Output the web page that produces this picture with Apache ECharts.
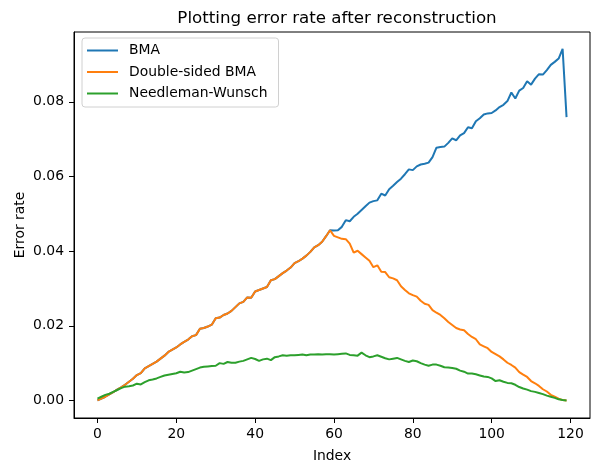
<!DOCTYPE html>
<html>
<head>
<meta charset="utf-8">
<script src="https://cdn.jsdelivr.net/npm/echarts@6/dist/echarts.min.js"></script>
<style>
  html, body { margin: 0; padding: 0; background: #fff; }
  #main { width: 592px; height: 460px; }
</style>
</head>
<body>
<div id="main"></div>
<script>
// values, index 0..119
var bma = [
  0.0000, 0.0005, 0.0010, 0.0016, 0.0022, 0.0029, 0.0035, 0.0042, 0.0050, 0.0058,
  0.0068, 0.0073, 0.0086, 0.0092, 0.0098, 0.0104, 0.0112, 0.0120, 0.0130, 0.0136,
  0.0142, 0.0150, 0.0157, 0.0163, 0.0172, 0.0175, 0.0192, 0.0194, 0.0198, 0.0203,
  0.0220, 0.0222, 0.0229, 0.0233, 0.0240, 0.0250, 0.0260, 0.0264, 0.0276, 0.0275,
  0.0292, 0.0296, 0.0300, 0.0304, 0.0322, 0.0325, 0.0333, 0.0341, 0.0348, 0.0356,
  0.0368, 0.0373, 0.0380, 0.0388, 0.0398, 0.0410, 0.0416, 0.0425, 0.0440, 0.0456,
  0.0455, 0.0456, 0.0465, 0.0483, 0.0480, 0.0492, 0.0500, 0.0510, 0.0520, 0.0530,
  0.0534, 0.0536, 0.0554, 0.0549, 0.0566, 0.0575, 0.0585, 0.0594, 0.0606, 0.0619,
  0.0617, 0.0627, 0.0632, 0.0634, 0.0637, 0.0652, 0.0677, 0.0679, 0.0680, 0.0690,
  0.0702, 0.0697, 0.0710, 0.0716, 0.0732, 0.0729, 0.0748, 0.0756, 0.0766, 0.0769,
  0.0770, 0.0777, 0.0786, 0.0792, 0.0802, 0.0825, 0.0809, 0.0830, 0.0837, 0.0855,
  0.0846, 0.0862, 0.0874, 0.0873, 0.0885, 0.0899, 0.0907, 0.0916, 0.0942, 0.0759
];
var doubleSided = [
  0.0000, 0.0005, 0.0010, 0.0016, 0.0022, 0.0029, 0.0035, 0.0042, 0.0050, 0.0058,
  0.0068, 0.0073, 0.0086, 0.0092, 0.0098, 0.0104, 0.0112, 0.0120, 0.0130, 0.0136,
  0.0142, 0.0150, 0.0157, 0.0163, 0.0172, 0.0175, 0.0192, 0.0194, 0.0198, 0.0203,
  0.0220, 0.0222, 0.0229, 0.0233, 0.0240, 0.0250, 0.0260, 0.0264, 0.0276, 0.0275,
  0.0292, 0.0296, 0.0300, 0.0304, 0.0322, 0.0325, 0.0333, 0.0341, 0.0348, 0.0356,
  0.0368, 0.0373, 0.0380, 0.0388, 0.0398, 0.0410, 0.0416, 0.0425, 0.0440, 0.0456,
  0.0441, 0.0437, 0.0433, 0.0432, 0.0420, 0.0396, 0.0401, 0.0392, 0.0383, 0.0374,
  0.0357, 0.0362, 0.0345, 0.0344, 0.0330, 0.0327, 0.0322, 0.0306, 0.0296, 0.0287,
  0.0282, 0.0278, 0.0267, 0.0259, 0.0256, 0.0242, 0.0235, 0.0229, 0.0220, 0.0210,
  0.0202, 0.0194, 0.0190, 0.0188, 0.0178, 0.0170, 0.0164, 0.0150, 0.0145, 0.0140,
  0.0130, 0.0124, 0.0118, 0.0110, 0.0101, 0.0095, 0.0088, 0.0076, 0.0069, 0.0063,
  0.0052, 0.0046, 0.0039, 0.0030, 0.0024, 0.0015, 0.0010, 0.0005, 0.0001, 0.0000
];
var needleman = [
  0.0005, 0.0010, 0.0015, 0.0018, 0.0023, 0.0028, 0.0033, 0.0037, 0.0038, 0.0040,
  0.0045, 0.0043, 0.0049, 0.0054, 0.0056, 0.0059, 0.0063, 0.0067, 0.0069, 0.0071,
  0.0073, 0.0077, 0.0075, 0.0076, 0.0080, 0.0084, 0.0088, 0.0090, 0.0091, 0.0092,
  0.0093, 0.0100, 0.0098, 0.0103, 0.0101, 0.0101, 0.0104, 0.0106, 0.0110, 0.0114,
  0.0111, 0.0106, 0.0110, 0.0112, 0.0108, 0.0116, 0.0118, 0.0121, 0.0120, 0.0121,
  0.0121, 0.0122, 0.0123, 0.0121, 0.0123, 0.0123, 0.0124, 0.0123, 0.0124, 0.0124,
  0.0123, 0.0124, 0.0125, 0.0126, 0.0122, 0.0121, 0.0120, 0.0128, 0.0121, 0.0116,
  0.0118, 0.0121, 0.0117, 0.0113, 0.0110, 0.0112, 0.0114, 0.0110, 0.0106, 0.0103,
  0.0107, 0.0105, 0.0100, 0.0096, 0.0093, 0.0096, 0.0096, 0.0093, 0.0089, 0.0088,
  0.0087, 0.0085, 0.0080, 0.0077, 0.0072, 0.0072, 0.0070, 0.0067, 0.0064, 0.0063,
  0.0059, 0.0052, 0.0054, 0.0050, 0.0047, 0.0046, 0.0042, 0.0036, 0.0032, 0.0029,
  0.0025, 0.0023, 0.0020, 0.0017, 0.0013, 0.0010, 0.0007, 0.0003, 0.0001, 0.0000
];
var xTicks = [0, 20, 40, 60, 80, 100, 120];
var yTicks = [0, 0.02, 0.04, 0.06, 0.08];

function pairs(arr) {
  return arr.map(function (v, i) { return [i, v]; });
}

var font = 'DejaVu Sans';
var fs = 13.9;
var chart = echarts.init(document.getElementById('main'), null, { renderer: 'canvas' });

var seriesStyle = function (name, color, data) {
  return {
    name: name,
    type: 'line',
    data: pairs(data),
    symbol: 'none',
    showSymbol: false,
    animation: false,
    lineStyle: { color: color, width: 2 },
    itemStyle: { color: color }
  };
};

chart.setOption({
  animation: false,
  textStyle: { fontFamily: font },
  title: {
    text: 'Plotting error rate after reconstruction',
    left: 332,
    top: 5,
    textAlign: 'center',
    textStyle: { fontFamily: font, fontSize: 16.7, fontWeight: 'normal', color: '#000' }
  },
  grid: {
    left: 74, right: 2, top: 32, bottom: 42,
    outerBoundsMode: 'none',
    show: true, borderColor: '#000', borderWidth: 1, backgroundColor: 'transparent'
  },
  legend: {
    orient: 'vertical',
    left: 82,
    top: 38,
    padding: [5, 11, 6, 5],
    itemGap: 6.5,
    itemWidth: 31,
    itemHeight: 2,
    icon: 'rect',
    backgroundColor: 'rgba(255,255,255,0.8)',
    borderColor: '#d0d0d0',
    borderWidth: 1,
    borderRadius: 3,
    textStyle: { fontFamily: font, fontSize: fs, lineHeight: 15, color: '#000', padding: [0, 0, 0, 6] },
    data: ['BMA', 'Double-sided BMA', 'Needleman-Wunsch']
  },
  xAxis: {
    type: 'value',
    min: -5.95,
    max: 124.95,
    name: 'Index',
    nameLocation: 'middle',
    nameGap: 31,
    nameTextStyle: { fontFamily: font, fontSize: fs, color: '#000' },
    axisLine: { show: true, onZero: false, lineStyle: { color: '#000', width: 1 } },
    axisTick: { show: true, length: 5, customValues: xTicks, lineStyle: { color: '#000' } },
    axisLabel: { customValues: xTicks, fontFamily: font, fontSize: fs, color: '#000', margin: 9 },
    splitLine: { show: false }
  },
  yAxis: {
    type: 'value',
    min: -0.0047,
    max: 0.0987,
    name: 'Error rate',
    nameLocation: 'middle',
    nameGap: 47,
    nameMoveOverlap: false,
    nameTextStyle: { fontFamily: font, fontSize: fs, color: '#000' },
    axisLine: { show: true, onZero: false, lineStyle: { color: '#000', width: 1 } },
    axisTick: { show: true, length: 5, customValues: yTicks, lineStyle: { color: '#000' } },
    axisLabel: {
      customValues: yTicks, fontFamily: font, fontSize: fs, color: '#000', margin: 10,
      formatter: function (v) { return v.toFixed(2); }
    },
    splitLine: { show: false }
  },
  series: [
    seriesStyle('BMA', '#1f77b4', bma),
    seriesStyle('Double-sided BMA', '#ff7f0e', doubleSided),
    seriesStyle('Needleman-Wunsch', '#2ca02c', needleman)
  ]
});
</script>
</body>
</html>
